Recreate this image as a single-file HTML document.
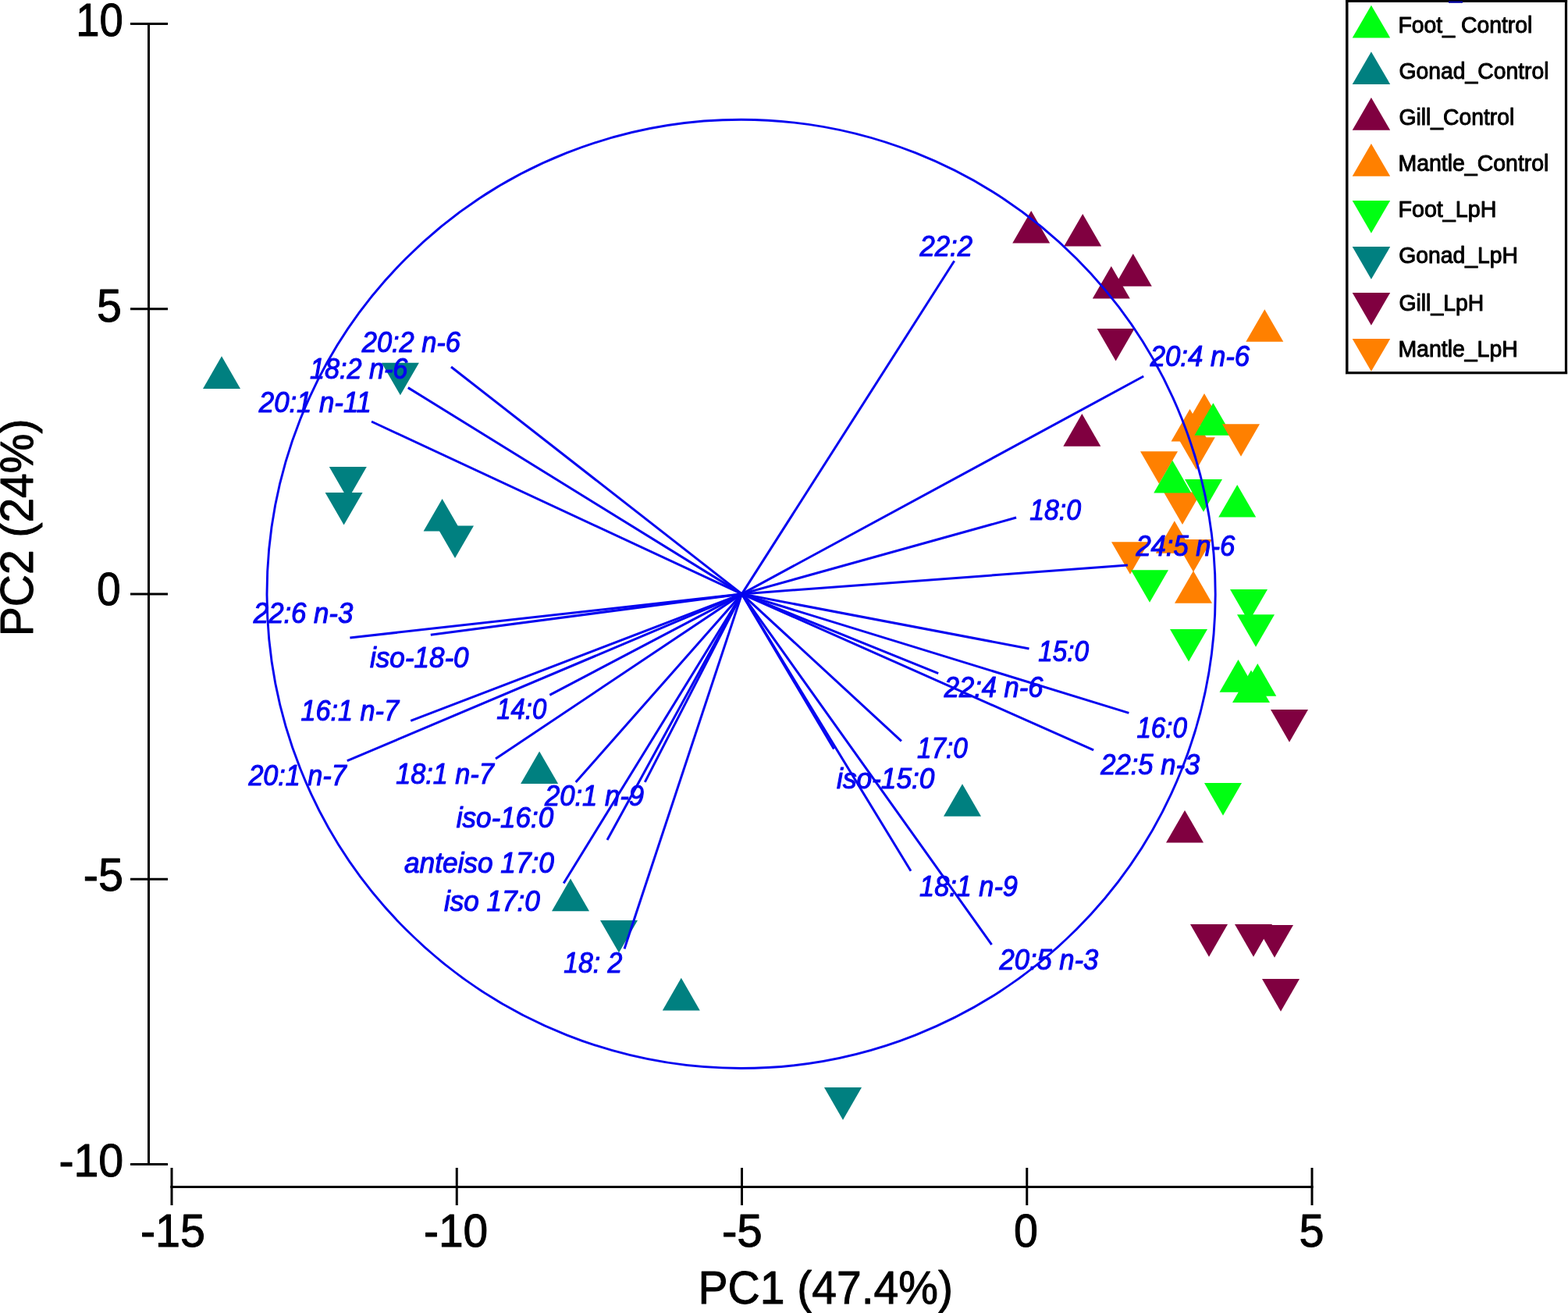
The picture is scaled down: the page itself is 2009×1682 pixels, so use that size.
<!DOCTYPE html><html><head><meta charset="utf-8"><title>PCA biplot</title>
<style>html,body{margin:0;padding:0;background:#fff;}svg{display:block;}</style></head><body>
<svg width="2009" height="1682" viewBox="0 0 2009 1682">
<rect width="2009" height="1682" fill="#fff"/>
<g stroke="#000" stroke-width="3" fill="none">
<line x1="190.5" y1="29" x2="190.5" y2="1493"/>
<line x1="167" y1="30.50" x2="215" y2="30.50"/>
<line x1="167" y1="395.75" x2="215" y2="395.75"/>
<line x1="167" y1="761.00" x2="215" y2="761.00"/>
<line x1="167" y1="1126.25" x2="215" y2="1126.25"/>
<line x1="167" y1="1491.50" x2="215" y2="1491.50"/>
<line x1="218.3" y1="1520.6" x2="1682.5" y2="1520.6"/>
<line x1="220.00" y1="1496" x2="220.00" y2="1544"/>
<line x1="585.25" y1="1496" x2="585.25" y2="1544"/>
<line x1="950.50" y1="1496" x2="950.50" y2="1544"/>
<line x1="1315.75" y1="1496" x2="1315.75" y2="1544"/>
<line x1="1681.00" y1="1496" x2="1681.00" y2="1544"/>
</g>
<g>
<polygon points="284.0,456.3 260.0,497.9 308.0,497.9" fill="#008080"/>
<polygon points="488.9,464.7 536.9,464.7 512.9,506.3" fill="#008080"/>
<polygon points="421.8,598.1 469.8,598.1 445.8,639.7" fill="#008080"/>
<polygon points="416.6,631.0 464.6,631.0 440.6,672.6" fill="#008080"/>
<polygon points="566.6,639.0 542.6,680.6 590.6,680.6" fill="#008080"/>
<polygon points="559.0,673.5 607.0,673.5 583.0,715.1" fill="#008080"/>
<polygon points="691.1,962.5 667.1,1004.1 715.1,1004.1" fill="#008080"/>
<polygon points="1233.0,1004.2 1209.0,1045.8 1257.0,1045.8" fill="#008080"/>
<polygon points="731.0,1125.6 707.0,1167.2 755.0,1167.2" fill="#008080"/>
<polygon points="769.0,1179.0 817.0,1179.0 793.0,1220.6" fill="#008080"/>
<polygon points="872.8,1252.8 848.8,1294.4 896.8,1294.4" fill="#008080"/>
<polygon points="1056.0,1393.1 1104.0,1393.1 1080.0,1434.7" fill="#008080"/>
<polygon points="1321.2,270.0 1297.2,311.6 1345.2,311.6" fill="#800040"/>
<polygon points="1387.2,274.0 1363.2,315.6 1411.2,315.6" fill="#800040"/>
<polygon points="1451.8,325.1 1427.8,366.7 1475.8,366.7" fill="#800040"/>
<polygon points="1423.8,341.0 1399.8,382.6 1447.8,382.6" fill="#800040"/>
<polygon points="1405.6,421.0 1453.6,421.0 1429.6,462.6" fill="#800040"/>
<polygon points="1386.3,530.1 1362.3,571.7 1410.3,571.7" fill="#800040"/>
<polygon points="1628.0,909.1 1676.0,909.1 1652.0,950.7" fill="#800040"/>
<polygon points="1518.0,1037.9 1494.0,1079.5 1542.0,1079.5" fill="#800040"/>
<polygon points="1525.0,1184.1 1573.0,1184.1 1549.0,1225.7" fill="#800040"/>
<polygon points="1582.0,1184.1 1630.0,1184.1 1606.0,1225.7" fill="#800040"/>
<polygon points="1609.0,1185.1 1657.0,1185.1 1633.0,1226.7" fill="#800040"/>
<polygon points="1617.0,1254.1 1665.0,1254.1 1641.0,1295.7" fill="#800040"/>
<polygon points="1620.3,396.2 1596.3,437.8 1644.3,437.8" fill="#ff8000"/>
<polygon points="1543.0,504.0 1519.0,545.6 1567.0,545.6" fill="#ff8000"/>
<polygon points="1524.5,524.0 1500.5,565.6 1548.5,565.6" fill="#ff8000"/>
<polygon points="1554.4,516.2 1530.4,557.8 1578.4,557.8" fill="#00ff12"/>
<polygon points="1566.0,543.2 1614.0,543.2 1590.0,584.8" fill="#ff8000"/>
<polygon points="1508.8,560.2 1556.8,560.2 1532.8,601.8" fill="#ff8000"/>
<polygon points="1461.0,578.2 1509.0,578.2 1485.0,619.8" fill="#ff8000"/>
<polygon points="1491.0,630.4 1539.0,630.4 1515.0,672.0" fill="#ff8000"/>
<polygon points="1502.2,589.8 1478.2,631.4 1526.2,631.4" fill="#00ff12"/>
<polygon points="1518.0,614.1 1566.0,614.1 1542.0,655.7" fill="#00ff12"/>
<polygon points="1585.2,620.9 1561.2,662.5 1609.2,662.5" fill="#00ff12"/>
<polygon points="1504.8,667.2 1480.8,708.8 1528.8,708.8" fill="#ff8000"/>
<polygon points="1424.0,694.2 1472.0,694.2 1448.0,735.8" fill="#ff8000"/>
<polygon points="1505.0,691.1 1553.0,691.1 1529.0,732.7" fill="#ff8000"/>
<polygon points="1529.0,731.2 1505.0,772.8 1553.0,772.8" fill="#ff8000"/>
<polygon points="1449.0,730.2 1497.0,730.2 1473.0,771.8" fill="#00ff12"/>
<polygon points="1576.0,755.0 1624.0,755.0 1600.0,796.6" fill="#00ff12"/>
<polygon points="1585.0,787.2 1633.0,787.2 1609.0,828.8" fill="#00ff12"/>
<polygon points="1499.0,806.0 1547.0,806.0 1523.0,847.6" fill="#00ff12"/>
<polygon points="1586.5,845.1 1562.5,886.7 1610.5,886.7" fill="#00ff12"/>
<polygon points="1611.3,850.1 1587.3,891.7 1635.3,891.7" fill="#00ff12"/>
<polygon points="1603.0,858.5 1579.0,900.1 1627.0,900.1" fill="#00ff12"/>
<polygon points="1543.0,1003.1 1591.0,1003.1 1567.0,1044.7" fill="#00ff12"/>
</g>
<g stroke="#0505f0" stroke-width="3.0" fill="none" stroke-linecap="butt">
<circle cx="949.6" cy="760.9" r="607.6" stroke-width="2.9"/>
<line x1="950.5" y1="760.9" x2="1222.7" y2="334.3"/>
<line x1="950.5" y1="760.9" x2="1465.2" y2="482.0"/>
<line x1="950.5" y1="760.9" x2="1302.1" y2="663.0"/>
<line x1="950.5" y1="760.9" x2="1444.9" y2="724.0"/>
<line x1="950.5" y1="760.9" x2="1318.5" y2="831.0"/>
<line x1="950.5" y1="760.9" x2="1202.2" y2="862.7"/>
<line x1="950.5" y1="760.9" x2="1446.4" y2="913.4"/>
<line x1="950.5" y1="760.9" x2="1401.1" y2="960.8"/>
<line x1="950.5" y1="760.9" x2="1154.9" y2="949.3"/>
<line x1="950.5" y1="760.9" x2="1167.0" y2="1115.8"/>
<line x1="950.5" y1="760.9" x2="1068.5" y2="959.5"/>
<line x1="950.5" y1="760.9" x2="1270.6" y2="1210.1"/>
<line x1="950.5" y1="760.9" x2="800.0" y2="1215.5"/>
<line x1="950.5" y1="760.9" x2="722.2" y2="1131.5"/>
<line x1="950.5" y1="760.9" x2="778.0" y2="1076.0"/>
<line x1="950.5" y1="760.9" x2="826.3" y2="1001.9"/>
<line x1="950.5" y1="760.9" x2="737.7" y2="1002.0"/>
<line x1="950.5" y1="760.9" x2="635.0" y2="972.0"/>
<line x1="950.5" y1="760.9" x2="704.3" y2="890.4"/>
<line x1="950.5" y1="760.9" x2="444.8" y2="974.7"/>
<line x1="950.5" y1="760.9" x2="526.2" y2="923.4"/>
<line x1="950.5" y1="760.9" x2="551.8" y2="813.2"/>
<line x1="950.5" y1="760.9" x2="448.4" y2="817.0"/>
<line x1="950.5" y1="760.9" x2="476.0" y2="540.0"/>
<line x1="950.5" y1="760.9" x2="522.8" y2="496.6"/>
<line x1="950.5" y1="760.9" x2="578.0" y2="470.0"/>
</g>
<path d="M1725.9 0 V479.2 M1724 477.6 H2008.2 M2006.5 479.2 V0 M1724 1.5 H2008.2" fill="none" stroke="#000" stroke-width="3.2"/><rect x="1724" y="0" width="0.8" height="479.2" fill="#000"/>
<rect x="1856" y="1.4" width="18" height="2.4" fill="#0000a0"/>
<polygon points="1756.9,6.7 1732.7,48.4 1781.2,48.4" fill="#00ff12"/>
<polygon points="1756.9,66.2 1732.7,107.9 1781.2,107.9" fill="#008080"/>
<polygon points="1756.9,125.0 1732.7,166.7 1781.2,166.7" fill="#800040"/>
<polygon points="1756.9,184.0 1732.7,225.7 1781.2,225.7" fill="#ff8000"/>
<polygon points="1732.7,257.0 1781.2,257.0 1756.9,298.7" fill="#00ff12"/>
<polygon points="1732.7,316.1 1781.2,316.1 1756.9,357.8" fill="#008080"/>
<polygon points="1732.7,375.0 1781.2,375.0 1756.9,416.7" fill="#800040"/>
<polygon points="1732.7,434.1 1781.2,434.1 1756.9,475.8" fill="#ff8000"/>
<text id="L0" font-family="'Liberation Sans', Arial, sans-serif" font-size="36" font-style="italic" fill="#0505f0" stroke="#0505f0" stroke-width="1.1" stroke-linejoin="round" textLength="67.39" lengthAdjust="spacingAndGlyphs" x="1178.53" y="327.90">22:2</text>
<text id="L1" font-family="'Liberation Sans', Arial, sans-serif" font-size="36" font-style="italic" fill="#0505f0" stroke="#0505f0" stroke-width="1.1" stroke-linejoin="round" textLength="127.39" lengthAdjust="spacingAndGlyphs" x="1473.71" y="468.70">20:4 n-6</text>
<text id="L2" font-family="'Liberation Sans', Arial, sans-serif" font-size="36" font-style="italic" fill="#0505f0" stroke="#0505f0" stroke-width="1.1" stroke-linejoin="round" textLength="65.78" lengthAdjust="spacingAndGlyphs" x="1319.16" y="665.90">18:0</text>
<text id="L3" font-family="'Liberation Sans', Arial, sans-serif" font-size="36" font-style="italic" fill="#0505f0" stroke="#0505f0" stroke-width="1.1" stroke-linejoin="round" textLength="126.94" lengthAdjust="spacingAndGlyphs" x="1455.39" y="712.00">24:5 n-6</text>
<text id="L4" font-family="'Liberation Sans', Arial, sans-serif" font-size="36" font-style="italic" fill="#0505f0" stroke="#0505f0" stroke-width="1.1" stroke-linejoin="round" textLength="64.77" lengthAdjust="spacingAndGlyphs" x="1330.25" y="847.00">15:0</text>
<text id="L5" font-family="'Liberation Sans', Arial, sans-serif" font-size="36" font-style="italic" fill="#0505f0" stroke="#0505f0" stroke-width="1.1" stroke-linejoin="round" textLength="126.48" lengthAdjust="spacingAndGlyphs" x="1209.84" y="892.50">22:4 n-6</text>
<text id="L6" font-family="'Liberation Sans', Arial, sans-serif" font-size="36" font-style="italic" fill="#0505f0" stroke="#0505f0" stroke-width="1.1" stroke-linejoin="round" textLength="64.44" lengthAdjust="spacingAndGlyphs" x="1456.45" y="945.20">16:0</text>
<text id="L7" font-family="'Liberation Sans', Arial, sans-serif" font-size="36" font-style="italic" fill="#0505f0" stroke="#0505f0" stroke-width="1.1" stroke-linejoin="round" textLength="127.01" lengthAdjust="spacingAndGlyphs" x="1410.20" y="991.80">22:5 n-3</text>
<text id="L8" font-family="'Liberation Sans', Arial, sans-serif" font-size="36" font-style="italic" fill="#0505f0" stroke="#0505f0" stroke-width="1.1" stroke-linejoin="round" textLength="64.67" lengthAdjust="spacingAndGlyphs" x="1175.05" y="971.40">17:0</text>
<text id="L9" font-family="'Liberation Sans', Arial, sans-serif" font-size="36" font-style="italic" fill="#0505f0" stroke="#0505f0" stroke-width="1.1" stroke-linejoin="round" textLength="125.29" lengthAdjust="spacingAndGlyphs" x="1072.07" y="1009.60">iso-15:0</text>
<text id="L10" font-family="'Liberation Sans', Arial, sans-serif" font-size="36" font-style="italic" fill="#0505f0" stroke="#0505f0" stroke-width="1.1" stroke-linejoin="round" textLength="125.83" lengthAdjust="spacingAndGlyphs" x="1178.07" y="1147.70">18:1 n-9</text>
<text id="L11" font-family="'Liberation Sans', Arial, sans-serif" font-size="36" font-style="italic" fill="#0505f0" stroke="#0505f0" stroke-width="1.1" stroke-linejoin="round" textLength="126.65" lengthAdjust="spacingAndGlyphs" x="1280.50" y="1242.20">20:5 n-3</text>
<text id="L12" font-family="'Liberation Sans', Arial, sans-serif" font-size="36" font-style="italic" fill="#0505f0" stroke="#0505f0" stroke-width="1.1" stroke-linejoin="round" textLength="75.05" lengthAdjust="spacingAndGlyphs" x="722.29" y="1246.20">18: 2</text>
<text id="L13" font-family="'Liberation Sans', Arial, sans-serif" font-size="36" font-style="italic" fill="#0505f0" stroke="#0505f0" stroke-width="1.1" stroke-linejoin="round" textLength="122.87" lengthAdjust="spacingAndGlyphs" x="568.89" y="1166.80">iso 17:0</text>
<text id="L14" font-family="'Liberation Sans', Arial, sans-serif" font-size="36" font-style="italic" fill="#0505f0" stroke="#0505f0" stroke-width="1.1" stroke-linejoin="round" textLength="191.86" lengthAdjust="spacingAndGlyphs" x="517.99" y="1117.60">anteiso 17:0</text>
<text id="L15" font-family="'Liberation Sans', Arial, sans-serif" font-size="36" font-style="italic" fill="#0505f0" stroke="#0505f0" stroke-width="1.1" stroke-linejoin="round" textLength="124.53" lengthAdjust="spacingAndGlyphs" x="584.67" y="1059.80">iso-16:0</text>
<text id="L16" font-family="'Liberation Sans', Arial, sans-serif" font-size="36" font-style="italic" fill="#0505f0" stroke="#0505f0" stroke-width="1.1" stroke-linejoin="round" textLength="127.06" lengthAdjust="spacingAndGlyphs" x="697.93" y="1032.30">20:1 n-9</text>
<text id="L17" font-family="'Liberation Sans', Arial, sans-serif" font-size="36" font-style="italic" fill="#0505f0" stroke="#0505f0" stroke-width="1.1" stroke-linejoin="round" textLength="125.52" lengthAdjust="spacingAndGlyphs" x="507.26" y="1003.70">18:1 n-7</text>
<text id="L18" font-family="'Liberation Sans', Arial, sans-serif" font-size="36" font-style="italic" fill="#0505f0" stroke="#0505f0" stroke-width="1.1" stroke-linejoin="round" textLength="63.85" lengthAdjust="spacingAndGlyphs" x="636.33" y="921.30">14:0</text>
<text id="L19" font-family="'Liberation Sans', Arial, sans-serif" font-size="36" font-style="italic" fill="#0505f0" stroke="#0505f0" stroke-width="1.1" stroke-linejoin="round" textLength="125.27" lengthAdjust="spacingAndGlyphs" x="318.38" y="1006.40">20:1 n-7</text>
<text id="L20" font-family="'Liberation Sans', Arial, sans-serif" font-size="36" font-style="italic" fill="#0505f0" stroke="#0505f0" stroke-width="1.1" stroke-linejoin="round" textLength="125.41" lengthAdjust="spacingAndGlyphs" x="385.51" y="923.40">16:1 n-7</text>
<text id="L21" font-family="'Liberation Sans', Arial, sans-serif" font-size="36" font-style="italic" fill="#0505f0" stroke="#0505f0" stroke-width="1.1" stroke-linejoin="round" textLength="126.45" lengthAdjust="spacingAndGlyphs" x="474.07" y="855.30">iso-18-0</text>
<text id="L22" font-family="'Liberation Sans', Arial, sans-serif" font-size="36" font-style="italic" fill="#0505f0" stroke="#0505f0" stroke-width="1.1" stroke-linejoin="round" textLength="127.41" lengthAdjust="spacingAndGlyphs" x="324.85" y="798.20">22:6 n-3</text>
<text id="L23" font-family="'Liberation Sans', Arial, sans-serif" font-size="36" font-style="italic" fill="#0505f0" stroke="#0505f0" stroke-width="1.1" stroke-linejoin="round" textLength="144.08" lengthAdjust="spacingAndGlyphs" x="331.85" y="527.50">20:1 n-11</text>
<text id="L24" font-family="'Liberation Sans', Arial, sans-serif" font-size="36" font-style="italic" fill="#0505f0" stroke="#0505f0" stroke-width="1.1" stroke-linejoin="round" textLength="125.53" lengthAdjust="spacingAndGlyphs" x="396.88" y="485.20">18:2 n-6</text>
<text id="L25" font-family="'Liberation Sans', Arial, sans-serif" font-size="36" font-style="italic" fill="#0505f0" stroke="#0505f0" stroke-width="1.1" stroke-linejoin="round" textLength="126.20" lengthAdjust="spacingAndGlyphs" x="463.75" y="450.80">20:2 n-6</text>
<text id="G0" font-family="'Liberation Sans', Arial, sans-serif" font-size="29" font-style="normal" fill="#000" stroke="#000" stroke-width="1.0" stroke-linejoin="round" textLength="171.85" lengthAdjust="spacingAndGlyphs" x="1791.49" y="42.10">Foot_ Control</text>
<text id="G1" font-family="'Liberation Sans', Arial, sans-serif" font-size="29" font-style="normal" fill="#000" stroke="#000" stroke-width="1.0" stroke-linejoin="round" textLength="191.93" lengthAdjust="spacingAndGlyphs" x="1792.52" y="101.00">Gonad_Control</text>
<text id="G2" font-family="'Liberation Sans', Arial, sans-serif" font-size="29" font-style="normal" fill="#000" stroke="#000" stroke-width="1.0" stroke-linejoin="round" textLength="147.72" lengthAdjust="spacingAndGlyphs" x="1792.49" y="159.80">Gill_Control</text>
<text id="G3" font-family="'Liberation Sans', Arial, sans-serif" font-size="29" font-style="normal" fill="#000" stroke="#000" stroke-width="1.0" stroke-linejoin="round" textLength="192.99" lengthAdjust="spacingAndGlyphs" x="1791.45" y="218.60">Mantle_Control</text>
<text id="G4" font-family="'Liberation Sans', Arial, sans-serif" font-size="29" font-style="normal" fill="#000" stroke="#000" stroke-width="1.0" stroke-linejoin="round" textLength="125.86" lengthAdjust="spacingAndGlyphs" x="1791.48" y="278.10">Foot_LpH</text>
<text id="G5" font-family="'Liberation Sans', Arial, sans-serif" font-size="29" font-style="normal" fill="#000" stroke="#000" stroke-width="1.0" stroke-linejoin="round" textLength="152.56" lengthAdjust="spacingAndGlyphs" x="1792.25" y="337.00">Gonad_LpH</text>
<text id="G6" font-family="'Liberation Sans', Arial, sans-serif" font-size="29" font-style="normal" fill="#000" stroke="#000" stroke-width="1.0" stroke-linejoin="round" textLength="108.66" lengthAdjust="spacingAndGlyphs" x="1792.48" y="397.90">Gill_LpH</text>
<text id="G7" font-family="'Liberation Sans', Arial, sans-serif" font-size="29" font-style="normal" fill="#000" stroke="#000" stroke-width="1.0" stroke-linejoin="round" textLength="153.35" lengthAdjust="spacingAndGlyphs" x="1791.42" y="457.20">Mantle_LpH</text>
<text id="Y0" font-family="'Liberation Sans', Arial, sans-serif" font-size="59" font-style="normal" fill="#000" stroke="#000" stroke-width="1.0" stroke-linejoin="round" textLength="60.50" lengthAdjust="spacingAndGlyphs" x="97.20" y="46.30">10</text>
<text id="Y1" font-family="'Liberation Sans', Arial, sans-serif" font-size="59" font-style="normal" fill="#000" stroke="#000" stroke-width="1.0" stroke-linejoin="round" textLength="31.90" lengthAdjust="spacingAndGlyphs" x="124.03" y="412.20">5</text>
<text id="Y2" font-family="'Liberation Sans', Arial, sans-serif" font-size="59" font-style="normal" fill="#000" stroke="#000" stroke-width="1.0" stroke-linejoin="round" textLength="30.64" lengthAdjust="spacingAndGlyphs" x="124.09" y="775.30">0</text>
<text id="Y3" font-family="'Liberation Sans', Arial, sans-serif" font-size="59" font-style="normal" fill="#000" stroke="#000" stroke-width="1.0" stroke-linejoin="round" textLength="51.20" lengthAdjust="spacingAndGlyphs" x="106.74" y="1141.20">-5</text>
<text id="Y4" font-family="'Liberation Sans', Arial, sans-serif" font-size="59" font-style="normal" fill="#000" stroke="#000" stroke-width="1.0" stroke-linejoin="round" textLength="82.90" lengthAdjust="spacingAndGlyphs" x="75.39" y="1506.60">-10</text>
<text id="X0" font-family="'Liberation Sans', Arial, sans-serif" font-size="59" font-style="normal" fill="#000" stroke="#000" stroke-width="1.0" stroke-linejoin="round" textLength="83.05" lengthAdjust="spacingAndGlyphs" x="179.88" y="1596.60">-15</text>
<text id="X1" font-family="'Liberation Sans', Arial, sans-serif" font-size="59" font-style="normal" fill="#000" stroke="#000" stroke-width="1.0" stroke-linejoin="round" textLength="82.16" lengthAdjust="spacingAndGlyphs" x="543.05" y="1596.60">-10</text>
<text id="X2" font-family="'Liberation Sans', Arial, sans-serif" font-size="59" font-style="normal" fill="#000" stroke="#000" stroke-width="1.0" stroke-linejoin="round" textLength="51.96" lengthAdjust="spacingAndGlyphs" x="924.91" y="1596.60">-5</text>
<text id="X3" font-family="'Liberation Sans', Arial, sans-serif" font-size="59" font-style="normal" fill="#000" stroke="#000" stroke-width="1.0" stroke-linejoin="round" textLength="30.91" lengthAdjust="spacingAndGlyphs" x="1298.93" y="1596.60">0</text>
<text id="X4" font-family="'Liberation Sans', Arial, sans-serif" font-size="59" font-style="normal" fill="#000" stroke="#000" stroke-width="1.0" stroke-linejoin="round" textLength="32.08" lengthAdjust="spacingAndGlyphs" x="1664.44" y="1596.60">5</text>
<text id="PX" font-family="'Liberation Sans', Arial, sans-serif" font-size="59" font-style="normal" fill="#000" stroke="#000" stroke-width="1.0" stroke-linejoin="round" textLength="326.48" lengthAdjust="spacingAndGlyphs" x="894.47" y="1669.90">PC1 (47.4%)</text>
<text id="PY" font-family="'Liberation Sans', Arial, sans-serif" font-size="59" font-style="normal" fill="#000" stroke="#000" stroke-width="1.0" stroke-linejoin="round" textLength="278.70" lengthAdjust="spacingAndGlyphs" transform="translate(42.00,815.26) rotate(-90)">PC2 (24%)</text>
</svg></body></html>
